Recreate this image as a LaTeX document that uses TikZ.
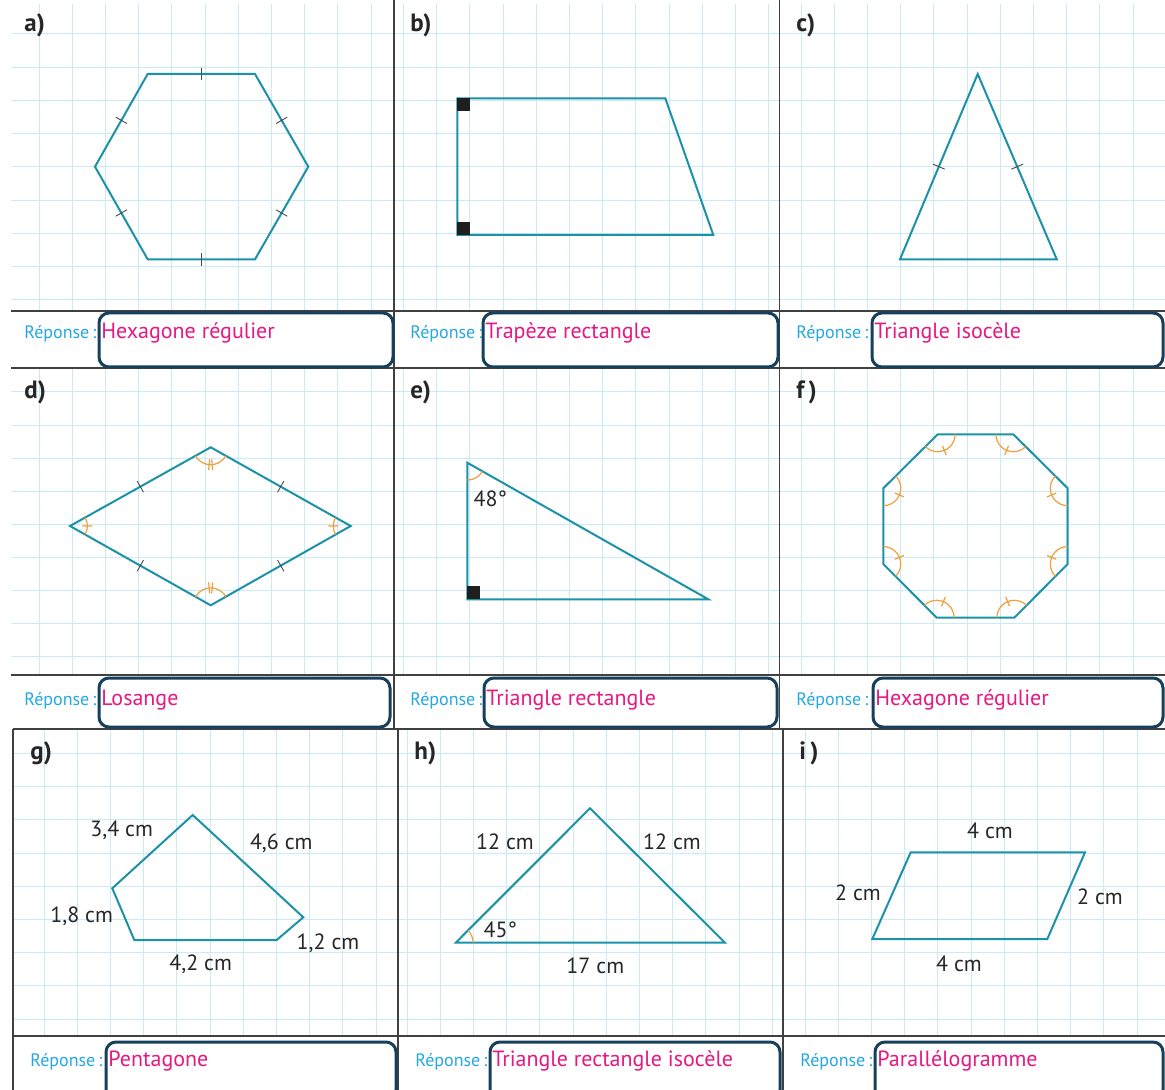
\documentclass[tikz,border=0pt]{standalone}
\usepackage{fontspec}
\setmainfont{PT Sans}
\usetikzlibrary{calc,angles}

\definecolor{gridblue}{RGB}{200,234,249}
\definecolor{rulegray}{RGB}{64,64,64}
\definecolor{figteal}{RGB}{28,146,168}
\definecolor{arcorange}{RGB}{238,160,60}
\definecolor{boxnavy}{RGB}{22,64,92}
\definecolor{repblue}{RGB}{38,168,226}
\definecolor{anspink}{RGB}{230,24,130}
\definecolor{textgray}{RGB}{38,38,38}

\begin{document}
\begin{tikzpicture}[x=0.5pt, y=-0.5pt,
  gridline/.style={gridblue, line width=0.5pt},
  rule/.style={rulegray, line width=0.6pt},
  figline/.style={figteal, line width=1pt},
  sidetick/.style={black!70, line width=0.45pt},
  anglemark/.style={draw=arcorange, line width=0.6pt, angle radius=8.7pt},
  arctick/.style={arcorange, line width=0.6pt},
  rightsq/.style={fill=black!88},
  answerbox/.style={draw=boxnavy, line width=1.5pt, rounded corners=5pt},
  panellabel/.style={anchor=base west, inner sep=0pt, text=textgray,
    font=\fontsize{12.5}{14}\selectfont\bfseries},
  reponse/.style={anchor=base west, inner sep=0pt, text=repblue,
    font=\fontsize{9}{10}\selectfont},
  answer/.style={anchor=base west, inner sep=0pt, text=anspink,
    font=\fontsize{11}{13}\selectfont},
  dimlabel/.style={inner sep=0pt, text=textgray, font=\fontsize{11}{13}\selectfont}]

\path[use as bounding box, clip] (0,0) rectangle (1165,1090);
\fill[white] (0,0) rectangle (1165,1090);

% Squared paper, rows one and two
\foreach \xs/\nk in {39/10, 403.5/11, 801/10} {
  \foreach \k in {0,...,\nk} {
    \draw[gridline] ({\xs+33.2*\k},4) -- ({\xs+33.2*\k},311);
    \draw[gridline] ({\xs+33.2*\k},368) -- ({\xs+33.2*\k},675);
  }
}
\foreach \k in {0,...,8} {
  \draw[gridline] (11,{34+33.25*\k}) -- (1165,{34+33.25*\k});
  \draw[gridline] (11,{392+33.1*\k}) -- (1165,{392+33.1*\k});
}
% Squared paper, row three
\foreach \xs/\nk in {44/10, 407/11, 805/10} {
  \foreach \k in {0,...,\nk}
    \draw[gridline] ({\xs+33.2*\k},729) -- ({\xs+33.2*\k},1036);
}
\foreach \k in {0,...,8}
  \draw[gridline] (13,{753.5+33.2*\k}) -- (1165,{753.5+33.2*\k});

% Frame rules
\foreach \y in {311, 368, 675}
  \draw[rule] (11,\y) -- (1165,\y);
\foreach \y in {729, 1036}
  \draw[rule] (13,\y) -- (1165,\y);
\foreach \x in {394, 779.5}
  \draw[rule] (\x,0) -- (\x,728);
\foreach \x in {13, 398, 783}
  \draw[rule] (\x,729) -- (\x,1090);

% Panel letters
\foreach \nm/\x/\y/\lab in {a/24/32/a), b/410/32/b), c/796/32/c),
    d/24/399/d), e/410/399/e), f/796/399/f\,),
    g/30/759/g), h/414/759/h), i/799/759/i\,)}
  \node[panellabel] (lab\nm) at (\x,\y) {\lab};

% Answer boxes
\foreach \nm/\lx/\bl/\br/\bt/\bb/\by/\ans in {
    a/24/99/393/313/367/339/Hexagone régulier,
    b/410/483/778/313/367/339/Trapèze rectangle,
    c/796/872/1163/313/367/339/Triangle isocèle,
    d/24/99/390/678/727/705/Losange,
    e/410/484/777/678/727/705/Triangle rectangle,
    f/796/873/1163/678/727/705/Hexagone régulier,
    g/30/106/396/1042/1100/1066/Pentagone,
    h/415/490/780/1042/1100/1066/Triangle rectangle isocèle,
    i/800/875/1163/1042/1100/1066/Parallélogramme} {
  \draw[answerbox] (\bl,\bt) rectangle (\br,\bb);
  \node[reponse] (rep\nm) at (\lx,\by) {Réponse\,:};
  \node[answer] (ans\nm) at ({\bl+2},\by) {\ans};
}

% a) hexagon
\coordinate (a1) at (147.7,74);
\coordinate (a2) at (255,74);
\coordinate (a3) at (308.3,166.7);
\coordinate (a4) at (255,259.3);
\coordinate (a5) at (147.7,259.3);
\coordinate (a6) at (95,166.7);
\draw[figline] (a1) -- (a2) -- (a3) -- (a4) -- (a5) -- (a6) -- cycle;

% b) right trapezoid
\coordinate (b1) at (457.3,98.3);
\coordinate (b2) at (665.3,98.3);
\coordinate (b3) at (713.3,235);
\coordinate (b4) at (457.3,235);
\draw[figline] (b1) -- (b2) -- (b3) -- (b4) -- cycle;
\fill[rightsq] (b1) rectangle ++(13,13);
\fill[rightsq] (b4) rectangle ++(13,-13);

% c) isosceles triangle
\coordinate (c1) at (977.7,74);
\coordinate (c2) at (1056.7,259.3);
\coordinate (c3) at (900,259.3);
\draw[figline] (c1) -- (c2) -- (c3) -- cycle;

% d) rhombus
\coordinate (d1) at (210.7,447.3);
\coordinate (d2) at (350.7,526);
\coordinate (d3) at (210.7,605.3);
\coordinate (d4) at (70,526);
\draw[figline] (d1) -- (d2) -- (d3) -- (d4) -- cycle;

% e) right triangle
\coordinate (e1) at (467.3,462.7);
\coordinate (e2) at (708.3,599.3);
\coordinate (e3) at (467.3,599.3);
\draw[figline] (e1) -- (e2) -- (e3) -- cycle;
\fill[rightsq] (e3) rectangle ++(13,-13);
\pic[anglemark] {angle=e3--e1--e2};
\node[dimlabel] (e48) at (490.3,498.3) {48°};

% f) octagon
\coordinate (f1) at (937.7,434.3);
\coordinate (f2) at (1013.3,434.3);
\coordinate (f3) at (1067.7,488.3);
\coordinate (f4) at (1067.7,564);
\coordinate (f5) at (1014.3,617.7);
\coordinate (f6) at (936.7,617.7);
\coordinate (f7) at (883.3,564);
\coordinate (f8) at (883.3,488.3);
\draw[figline] (f1) -- (f2) -- (f3) -- (f4) -- (f5) -- (f6) -- (f7) -- (f8) -- cycle;

% equal sides
\foreach \p/\q in {a1/a2, a2/a3, a3/a4, a4/a5, a5/a6, a6/a1, c1/c2, c3/c1,
    d1/d2, d2/d3, d3/d4, d4/d1} {
  \coordinate (mid) at ($(\p)!0.5!(\q)$);
  \draw[sidetick] ($(mid)!3.2pt!90:(\q)$) -- ($(mid)!3.2pt!-90:(\q)$);
}

% equal angles, one stroke
\foreach \p/\v/\n in {d1/d2/d3, d3/d4/d1, f8/f1/f2, f1/f2/f3, f2/f3/f4,
    f3/f4/f5, f4/f5/f6, f5/f6/f7, f6/f7/f8, f7/f8/f1} {
  \pic[anglemark] {angle=\p--\v--\n};
  \coordinate (u) at ($(\v)!10pt!(\p)$);
  \coordinate (w) at ($(\v)!10pt!(\n)$);
  \coordinate (bis) at ($(u)!0.5!(w)$);
  \draw[arctick] ($(\v)!6.2pt!(bis)$) -- ($(\v)!11.2pt!(bis)$);
}
% equal angles, two strokes
\foreach \p/\v/\n in {d4/d1/d2, d2/d3/d4} {
  \pic[anglemark] {angle=\p--\v--\n};
  \coordinate (u) at ($(\v)!10pt!(\p)$);
  \coordinate (w) at ($(\v)!10pt!(\n)$);
  \coordinate (bis) at ($(u)!0.5!(w)$);
  \draw[arctick] ($(\v)!6pt!5:(bis)$) -- ($(\v)!11.5pt!5:(bis)$);
  \draw[arctick] ($(\v)!6pt!-5:(bis)$) -- ($(\v)!11.5pt!-5:(bis)$);
}

% g) pentagon
\coordinate (g1) at (192.7,815);
\coordinate (g2) at (303.3,917.3);
\coordinate (g3) at (276.7,940);
\coordinate (g4) at (134.3,940);
\coordinate (g5) at (112.3,888.3);
\draw[figline] (g1) -- (g2) -- (g3) -- (g4) -- (g5) -- cycle;
\node[dimlabel] (g34) at (121.7,830.7) {3,4 cm};
\node[dimlabel] (g46) at (281.3,843.7) {4,6 cm};
\node[dimlabel] (g18) at (81.7,916.7) {1,8 cm};
\node[dimlabel] (g12) at (328,943.3) {1,2 cm};
\node[dimlabel] (g42) at (200.7,964.3) {4,2 cm};

% h) triangle
\coordinate (h1) at (455.7,942.7);
\coordinate (h2) at (590,808.3);
\coordinate (h3) at (725,942.7);
\draw[figline] (h1) -- (h2) -- (h3) -- cycle;
\pic[anglemark] {angle=h3--h1--h2};
\node[dimlabel] (h12l) at (505,842) {12 cm};
\node[dimlabel] (h12r) at (672,842) {12 cm};
\node[dimlabel] (h45) at (500.3,929.3) {45°};
\node[dimlabel] (h17) at (595.3,966) {17 cm};

% i) parallelogram
\coordinate (i1) at (910.7,852.3);
\coordinate (i2) at (1085,852.3);
\coordinate (i3) at (1047.3,939);
\coordinate (i4) at (872.3,939);
\draw[figline] (i1) -- (i2) -- (i3) -- (i4) -- cycle;
\node[dimlabel] (i4t) at (990,831) {4 cm};
\node[dimlabel] (i2l) at (858,892.7) {2 cm};
\node[dimlabel] (i2r) at (1100,897) {2 cm};
\node[dimlabel] (i4b) at (959,963.7) {4 cm};

\end{tikzpicture}
\end{document}
